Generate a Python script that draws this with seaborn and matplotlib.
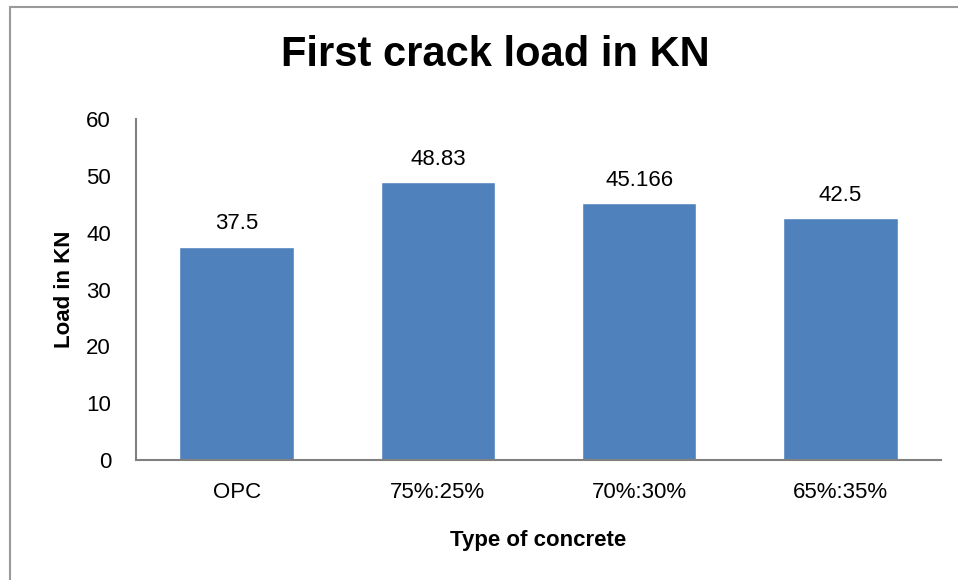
import matplotlib
matplotlib.use('Agg')
import matplotlib.pyplot as plt
import seaborn as sns
import pandas as pd
from matplotlib.patches import Rectangle

# chart data
categories = ['OPC', '75%:25%', '70%:30%', '65%:35%']
loads = [37.5, 48.83, 45.166, 42.5]
value_labels = ['37.5', '48.83', '45.166', '42.5']

df = pd.DataFrame({'concrete': categories, 'load': loads})

sns.set_style('white')
plt.rcParams['font.family'] = ['Liberation Sans Narrow', 'Liberation Sans', 'DejaVu Sans']
plt.rcParams['text.color'] = 'black'
plt.rcParams['axes.labelcolor'] = 'black'
plt.rcParams['xtick.color'] = 'black'
plt.rcParams['ytick.color'] = 'black'

fig = plt.figure(figsize=(9.58, 5.8), dpi=100)
ax = fig.add_axes([136 / 958, 120 / 580, 805 / 958, 341 / 580])

sns.barplot(x='concrete', y='load', data=df, color='#4F81BD', saturation=1,
            width=0.57, ax=ax)

for i, (v, lab) in enumerate(zip(loads, value_labels)):
    ax.text(i, v + 2.2, lab, ha='center', va='bottom', fontsize=16)

ax.set_ylim(0, 60)
ax.set_yticks(range(0, 61, 10))
ax.set_xlim(-0.5, 3.5)
ax.tick_params(axis='both', length=0, labelsize=16)
ax.tick_params(axis='y', pad=18)
ax.tick_params(axis='x', pad=16)
for side in ['top', 'right']:
    ax.spines[side].set_visible(False)
for side in ['left', 'bottom']:
    ax.spines[side].set_color('#808080')
    ax.spines[side].set_linewidth(1.5)

ax.set_xlabel('Type of concrete', fontsize=16, fontweight='bold', labelpad=19)
ax.set_ylabel('Load in KN', fontsize=16, fontweight='bold', labelpad=8)
fig.text(495 / 958, 1 - 55 / 580, 'First crack load in KN', ha='center', va='center',
         fontsize=30, fontweight='bold')

# outer chart frame (right and bottom edges fall outside the image)
fig.patches.append(Rectangle((10 / 958, -0.05), 1.0, 1 - 7 / 580 + 0.05,
                             transform=fig.transFigure, fill=False,
                             edgecolor='#9a9a9a', linewidth=1.5))

fig.savefig('out.png', dpi=100)
